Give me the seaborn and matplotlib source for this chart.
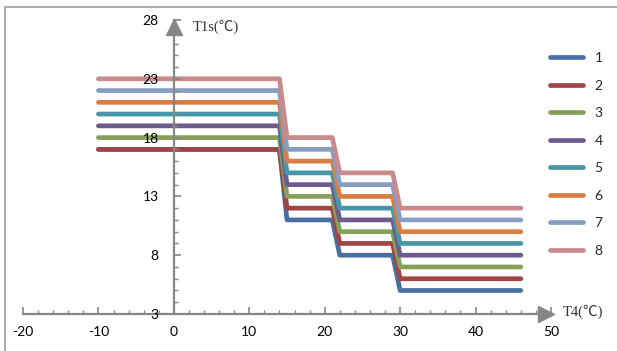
import matplotlib

matplotlib.use("Agg")
import matplotlib.pyplot as plt
import numpy as np
import pandas as pd
import seaborn as sns
from matplotlib.lines import Line2D
from matplotlib.ticker import MultipleLocator

# T4 breakpoints (outdoor temp) and T1s setpoints for curves 1..8
t4 = [-10, 14, 15, 21, 22, 29, 30, 46]
curve_1 = [17, 17, 11, 11, 8, 8, 5, 5]
curve_2 = [17, 17, 12, 12, 9, 9, 6, 6]
curve_3 = [18, 18, 13, 13, 10, 10, 7, 7]
curve_4 = [19, 19, 14, 14, 11, 11, 8, 8]
curve_5 = [20, 20, 15, 15, 12, 12, 9, 9]
curve_6 = [21, 21, 16, 16, 13, 13, 10, 10]
curve_7 = [22, 22, 17, 17, 14, 14, 11, 11]
curve_8 = [23, 23, 18, 18, 15, 15, 12, 12]
curve_names = ["1", "2", "3", "4", "5", "6", "7", "8"]
curves = [curve_1, curve_2, curve_3, curve_4, curve_5, curve_6, curve_7, curve_8]

x_ticks = [-20, -10, 0, 10, 20, 30, 40, 50]
y_ticks = [3, 8, 13, 18, 23, 28]

colors = ["#4a6fa5", "#a04545", "#86a05a", "#6e5a8e",
          "#4796a8", "#d97d45", "#869ec2", "#c88a8b"]
axis_gray = "#868686"

W, H = 617, 351

sns.set_style("white")
plt.rcParams["font.family"] = ["Lato", "DejaVu Sans"]
plt.rcParams["axes.unicode_minus"] = False

df = pd.concat(
    [pd.DataFrame({"T4": t4, "T1s": vals, "curve": name})
     for name, vals in zip(curve_names, curves)],
    ignore_index=True,
)

fig = plt.figure(figsize=(W / 100, H / 100), dpi=100)
ax = fig.add_axes([23 / W, 1 - 314 / H, (551 - 23) / W, (314 - 20) / H])

sns.lineplot(data=df, x="T4", y="T1s", hue="curve", palette=colors,
             linewidth=3.4, estimator=None, sort=False, legend=False, ax=ax)
for line in ax.get_lines():
    line.set_solid_capstyle("round")
    line.set_solid_joinstyle("round")

ax.set_xlim(-20, 50)
ax.set_ylim(3, 28)
ax.set_xlabel("")
ax.set_ylabel("")
ax.set_axisbelow(False)  # tick labels sit on top of the lines

for side in ["top", "right"]:
    ax.spines[side].set_visible(False)
ax.spines["left"].set_position(("data", 0))
for side in ["left", "bottom"]:
    ax.spines[side].set_color(axis_gray)
    ax.spines[side].set_linewidth(1.6)

ax.set_xticks(x_ticks)
ax.set_yticks(y_ticks)
ax.xaxis.set_minor_locator(MultipleLocator(2))
ax.yaxis.set_minor_locator(MultipleLocator(1))
ax.tick_params(axis="both", which="both", direction="in", color=axis_gray,
               bottom=True, left=True, labelsize=10, labelcolor="black")
ax.tick_params(axis="both", which="major", length=5, width=1.2)
ax.tick_params(axis="both", which="minor", length=3, width=1.0)
ax.tick_params(axis="x", which="major", pad=9)
ax.tick_params(axis="y", which="major", pad=11)

# arrow heads at the ends of the axes
ax.plot(0, 27.4, marker="^", markersize=11.5, color=axis_gray,
        clip_on=False, zorder=5)
ax.plot(49.3, 3, marker=">", markersize=11.5, color=axis_gray,
        clip_on=False, zorder=5)

label_font = ["Liberation Serif", "Noto Sans CJK SC"]
fig.text(193 / W, 1 - 27 / H, "T1s(℃)", family=label_font, fontsize=10.5,
         ha="left", va="center", color="#333333")
fig.text(563 / W, 1 - 312 / H, "T4(℃)", family=label_font, fontsize=10.5,
         ha="left", va="center", color="#333333")

handles = [Line2D([0], [0], color=c, lw=3.4, solid_capstyle="round")
           for c in colors]
fig.legend(handles, curve_names, loc="upper left",
           bbox_to_anchor=(550 / W, 1 - 52 / H), frameon=False,
           fontsize=10, handlelength=2.4, handletextpad=0.8,
           labelspacing=1.12, borderpad=0, borderaxespad=0)

# chart area border (left and top edges visible)
fig.add_artist(plt.Line2D([5 / W, 5 / W], [0, 1 - 7 / H],
                          transform=fig.transFigure, color="#a6a6a6", lw=1.3))
fig.add_artist(plt.Line2D([5 / W, 1], [1 - 7 / H, 1 - 7 / H],
                          transform=fig.transFigure, color="#a6a6a6", lw=1.3))

fig.savefig("out.png", dpi=100)
